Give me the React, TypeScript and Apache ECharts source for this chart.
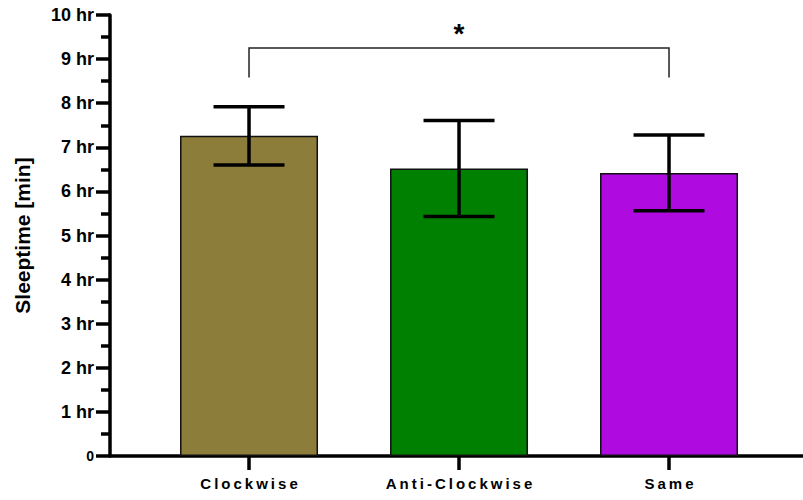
import React, { useEffect, useRef } from "react";
import * as echarts from "echarts";

// Sleep time per rotation group (hours): mean and standard deviation
const categories = ["Clockwise", "Anti-Clockwise", "Same"];
const means = [7.26, 6.52, 6.42];
const sds = [0.66, 1.09, 0.86];
const barColors = ["#8C7D3A", "#008000", "#AF0BE1"];

// Significance bracket between group 0 and group 2
const sigPair = [0, 2];
const sigLevel = 9.25;
const sigDrop = 8.58;
const sigText = "*";

const yTicks = [0, 1, 2, 3, 4, 5, 6, 7, 8, 9, 10];

const FONT = "'Liberation Sans', Arial, Helvetica, sans-serif";

// Prism-style spaced-out category labels
const spaced = (s: string) => s.split("").join("\u2009");

export default function App() {
  const ref = useRef<HTMLDivElement>(null);

  useEffect(() => {
    if (!ref.current) return;
    const chart = echarts.init(ref.current, null, { renderer: "svg" });

    const option: any = {
      animation: false,
      backgroundColor: "#ffffff",
      grid: { left: 110, right: 0, top: 15, bottom: 44 },
      xAxis: {
        type: "value",
        min: -0.662,
        max: 2.638,
        splitLine: { show: false },
        axisLine: { show: true, onZero: false, lineStyle: { color: "#000", width: 3.5 } },
        axisTick: {
          show: true,
          customValues: categories.map((_, i) => i),
          length: 14,
          lineStyle: { color: "#000", width: 3.5 },
        },
        axisLabel: {
          customValues: categories.map((_, i) => i),
          formatter: (v: number) => spaced(categories[Math.round(v)] ?? ""),
          fontFamily: FONT,
          fontWeight: "bold",
          fontSize: 15,
          color: "#000",
          margin: 20,
        },
      },
      yAxis: {
        type: "value",
        min: yTicks[0],
        max: yTicks[yTicks.length - 1],
        interval: 1,
        name: "Sleeptime [min]",
        nameLocation: "middle",
        nameGap: 77,
        nameTextStyle: {
          fontFamily: FONT,
          fontWeight: "bold",
          fontSize: 21,
          color: "#000",
        },
        splitLine: { show: false },
        axisLine: { show: true, onZero: false, lineStyle: { color: "#000", width: 3.5 } },
        axisTick: { show: true, length: 14, lineStyle: { color: "#000", width: 3.5 } },
        minorTick: { show: true, splitNumber: 2, length: 9, lineStyle: { color: "#000", width: 3.5 } },
        axisLabel: {
          formatter: (v: number) => (v === 0 ? "{z|0}" : `${v} hr`),
          fontFamily: FONT,
          fontWeight: "bold",
          fontSize: 18,
          color: "#000",
          margin: 16,
          rich: {
            z: { fontFamily: FONT, fontWeight: "bold", fontSize: 14, color: "#000" },
          },
        },
      },
      series: [
        {
          type: "bar",
          barWidth: 138,
          data: means.map((m, i) => ({
            value: [i, m],
            itemStyle: { color: barColors[i], borderColor: "#111", borderWidth: 1.5 },
          })),
          z: 2,
        },
        {
          type: "custom",
          z: 5,
          data: means.map((m, i) => [i, m, sds[i]]),
          renderItem: (params: any, api: any) => {
            const x = api.value(0);
            const m = api.value(1);
            const sd = api.value(2);
            const top = api.coord([x, m + sd]);
            const bot = api.coord([x, m - sd]);
            const half = 35.5;
            const style = { stroke: "#000", lineWidth: 3.5 };
            return {
              type: "group",
              children: [
                { type: "line", shape: { x1: top[0], y1: top[1], x2: bot[0], y2: bot[1] }, style },
                { type: "line", shape: { x1: top[0] - half, y1: top[1], x2: top[0] + half, y2: top[1] }, style },
                { type: "line", shape: { x1: bot[0] - half, y1: bot[1], x2: bot[0] + half, y2: bot[1] }, style },
              ],
            };
          },
        },
        {
          type: "custom",
          z: 5,
          data: [[sigPair[0], sigPair[1], sigLevel, sigDrop]],
          renderItem: (params: any, api: any) => {
            const a = api.coord([api.value(0), api.value(2)]);
            const b = api.coord([api.value(1), api.value(2)]);
            const aLow = api.coord([api.value(0), api.value(3)]);
            const bLow = api.coord([api.value(1), api.value(3)]);
            return {
              type: "group",
              children: [
                {
                  type: "polyline",
                  shape: { points: [aLow, a, b, bLow] },
                  style: { stroke: "#222", lineWidth: 1.5, fill: "none" },
                },
                {
                  type: "text",
                  x: (a[0] + b[0]) / 2,
                  y: a[1] - 1,
                  style: {
                    text: sigText,
                    fontFamily: FONT,
                    fontWeight: "bold",
                    fontSize: 28,
                    fill: "#000",
                    align: "center",
                    verticalAlign: "bottom",
                  },
                },
              ],
            };
          },
        },
      ],
    };

    chart.setOption(option);
    return () => chart.dispose();
  }, []);

  return <div ref={ref} style={{ width: 803, height: 500, position: "absolute", left: 0, top: 0 }} />;
}
